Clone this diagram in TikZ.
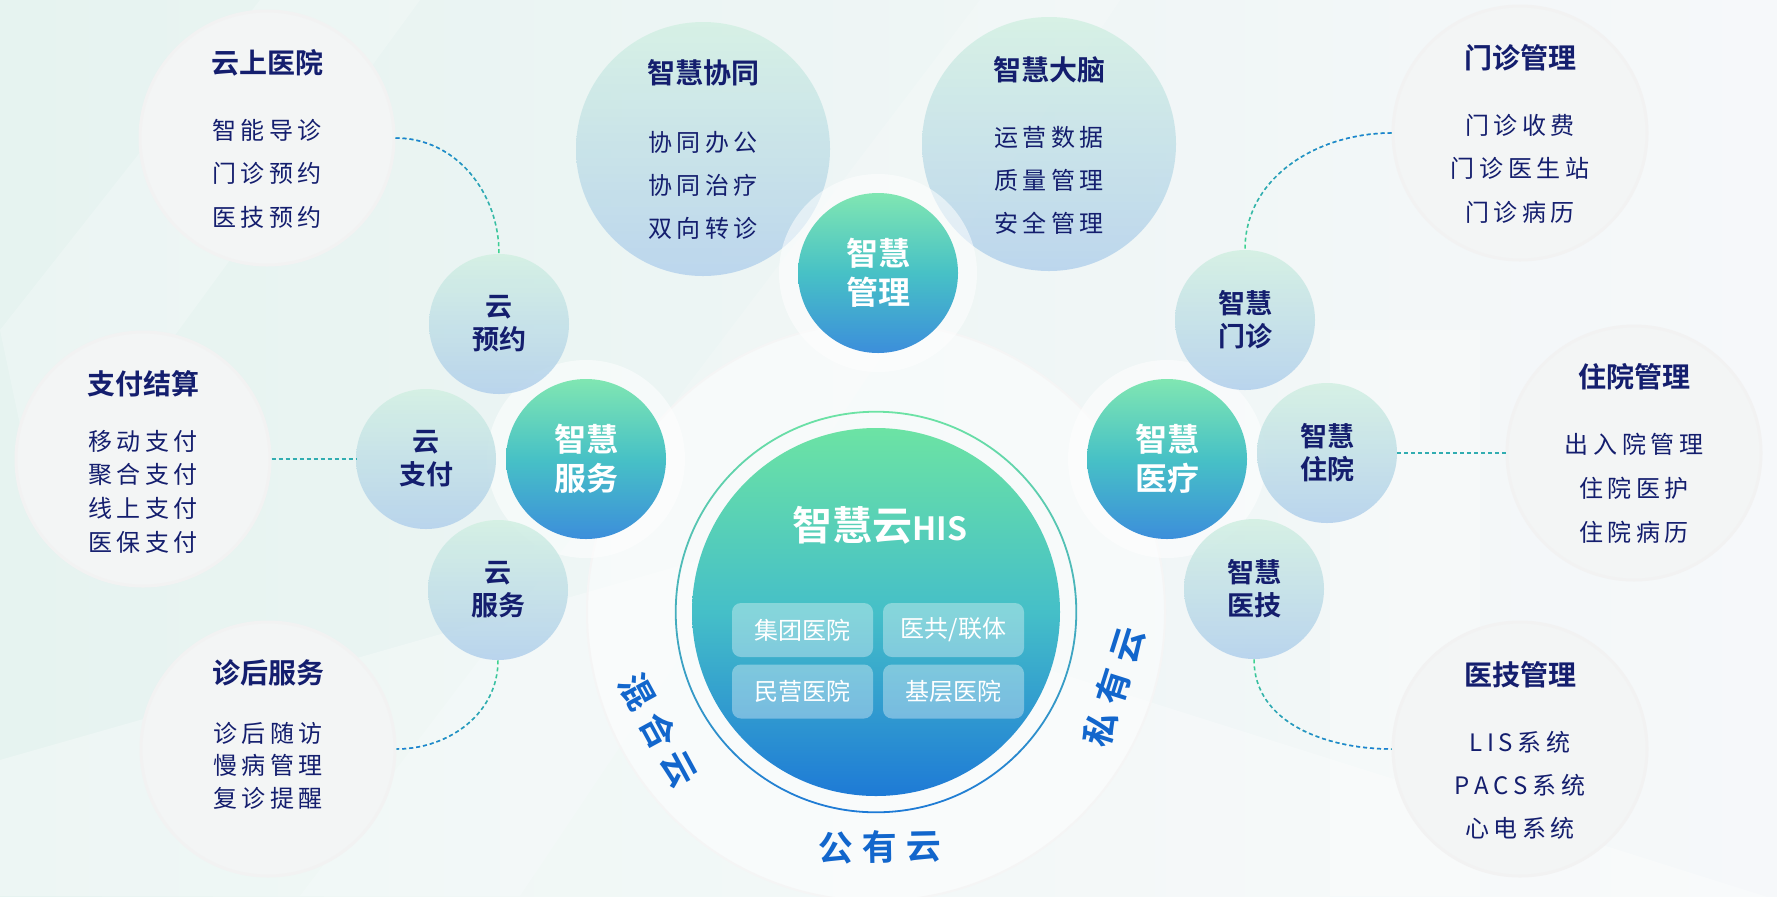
\documentclass[tikz,border=0pt]{standalone}
\usepackage{fontspec}
\setmainfont{Noto Sans CJK SC}[BoldFont={Noto Sans CJK SC Bold}]
\usetikzlibrary{positioning, fadings, calc}

\definecolor{navy}{HTML}{141E6E}
\definecolor{cloudblue}{HTML}{1266CC}
\definecolor{linkblue}{HTML}{1F7BDA}
\definecolor{linkgreen}{HTML}{3FD68F}
\definecolor{ballmint}{HTML}{D3F0E3}
\definecolor{ballblue}{HTML}{B4D1EC}
\definecolor{maingreen}{HTML}{80E6B2}
\definecolor{mainteal}{HTML}{47C1C6}
\definecolor{mainblue}{HTML}{3C8EDB}
\definecolor{hisgreen}{HTML}{6CE3A4}
\definecolor{histeal}{HTML}{45BFC8}
\definecolor{hisblue}{HTML}{1E7AD6}
\definecolor{descgrey}{HTML}{F3F5F5}
\definecolor{bgmint}{HTML}{E6F3F0}
\definecolor{bgwhite}{HTML}{F6F8FA}

\tikzfading[name=fade up, top color=transparent!0, bottom color=transparent!100]
\tikzfading[name=fade down, top color=transparent!100, bottom color=transparent!0]

% tracked text: a small gap after every character but the last
\newlength\trkgap
\setlength\trkgap{2.3pt}
\def\trk#1{\trkloop#1\relax}
\def\trkloop#1#2{#1\ifx#2\relax\else\hspace{\trkgap}\expandafter\trkloop\expandafter#2\fi}

\tikzset{
  desc/.style = {circle, inner sep=0pt, minimum size=127pt, fill=descgrey,
    draw=black!5, line width=1.5pt},
  ball/.style = {circle, inner sep=0pt, minimum size=127pt, top color=ballmint,
    bottom color=ballblue, opacity=0.85},
  sub/.style = {circle, inner sep=0pt, minimum size=70pt, top color=ballmint,
    bottom color=ballblue, opacity=0.9, text opacity=1, text=navy, align=center,
    font=\fontsize{13.5}{16.5}\selectfont\bfseries},
  main/.style = {circle, inner sep=0pt, minimum size=80pt, top color=maingreen,
    bottom color=mainblue, middle color=mainteal, text=white, align=center,
    font=\fontsize{16}{19.5}\selectfont\bfseries},
  halo/.style = {circle, inner sep=0pt, minimum size=99pt, fill=white, fill opacity=0.55},
  ttl/.style = {text=navy, inner sep=0pt, font=\fontsize{14}{14}\selectfont\bfseries},
  itm/.style = {text=navy, inner sep=0pt, font=\fontsize{12}{12}\selectfont},
  hbox/.style = {rounded corners=4.5pt, fill=white, fill opacity=0.35, text opacity=1,
    text=white, minimum width=70.5pt, minimum height=27pt, inner sep=0pt,
    font=\fontsize{12}{12}\selectfont},
  cloud/.style = {text=cloudblue, inner sep=0pt, font=\fontsize{17.5}{17.5}\selectfont\bfseries},
  link/.style = {dash pattern=on 2pt off 1.5pt, line width=0.75pt}
}

% style, name, x, y, title, title y, first item y, item pitch, items
\newcommand\infoball[9]{%
  \node[#1] (#2) at (#3,#4) {};
  \node[ttl] (#2-t) at (#3,#6) {#5};
  \foreach \itx [count=\k from 0] in {#9}
    \node[itm] (#2-\k) at (#3,{#7+\k*#8}) {\expandafter\trk\expandafter{\itx}};
}

\begin{document}
\begin{tikzpicture}[x=0.5pt, y=-0.5pt]
\useasboundingbox (0,0) rectangle (1777,896);
% background
\fill[left color=bgmint, right color=bgwhite] (0,0) rectangle (1777,896);
\fill[white, opacity=0.22] (0,330) -- (260,0) -- (420,0) -- (40,520) -- cycle;
\fill[white, opacity=0.18] (300,896) -- (980,0) -- (1120,0) -- (520,896) -- cycle;
\fill[white, opacity=0.25] (1330,330) rectangle (1480,896);
\fill[white, opacity=0.3] (0,760) -- (700,560) -- (1777,900) -- (0,896) -- cycle;

% outer disc
\node[circle, inner sep=0pt, minimum size=289pt, fill=white, fill opacity=0.5,
  draw=black!4, line width=1pt] (his-o) at (876,612) {};

% top balls
\infoball{ball}{xt}{703}{149}{智慧协同}{73}{142}{43}{协同办公,协同治疗,双向转诊}
\infoball{ball}{dn}{1049}{144}{智慧大脑}{70}{137}{43}{运营数据,质量管理,安全管理}

% left and right circles
\infoball{desc}{yy}{267}{138}{云上医院}{63}{130}{43.5}{智能导诊,门诊预约,医技预约}
\infoball{desc}{zf}{143}{459}{支付结算}{384}{441}{33.7}{移动支付,聚合支付,线上支付,医保支付}
\infoball{desc}{zh}{268}{749}{诊后服务}{673}{733}{32.5}{诊后随访,慢病管理,复诊提醒}
\infoball{desc}{mz}{1520}{133}{门诊管理}{58}{125}{43.5}{门诊收费,门诊医生站,门诊病历}
\infoball{desc}{zy}{1634}{453}{住院管理}{377}{444}{44}{出入院管理,住院医护,住院病历}
\infoball{desc}{yj}{1520}{749}{医技管理}{675}{742}{43}{LIS系统,PACS系统,心电系统}

% halos
\node[halo] (fw-h) at (586,459) {};
\node[halo] (yl-h) at (1167,459) {};
\node[halo] (gl-h) at (878,273) {};

% small circles
\node[sub] (yyy) at (499,324) {云\\预约};
\node[sub] (yzf) at (426,459) {云\\支付};
\node[sub] (yfw) at (498,590) {云\\服务};
\node[sub] (zmz) at (1245,320) {智慧\\门诊};
\node[sub] (zzy) at (1327,453) {智慧\\住院};
\node[sub] (zyj) at (1254,589) {智慧\\医技};

% main circles
\node[main] (fw) at (586,459) {智慧\\服务};
\node[main] (yl) at (1167,459) {智慧\\医疗};
\node[main] (gl) at (878,273) {智慧\\管理};

% centre
\node[circle, inner sep=0pt, minimum size=184pt, top color=hisgreen,
  bottom color=hisblue, middle color=histeal] (his) at (876,612) {};
\shade[top color=hisgreen, bottom color=hisblue, even odd rule]
  (his.center) circle (100.6pt) (his.center) circle (99.7pt);
\node[text=white, inner sep=0pt, font=\fontsize{20}{20}\selectfont\bfseries]
  (his-t) at (880,525) {智慧云{\fontsize{16}{16}\selectfont HIS}};
\node[hbox] (jt) at (802.5,630) {集团医院};
\node[hbox] (yg) at (953.5,630) {医共/联体};
\node[hbox] (my) at (802.5,691.5) {民营医院};
\node[hbox] (jc) at (953.5,691.5) {基层医院};

% cloud labels
\setlength\trkgap{4.5pt}
\node[cloud, rotate=298.5] (hh) at ([shift={(208.5:124pt)}]his.center) {\trk{混合云}};
\node[cloud, rotate=72.5] (sy) at ([shift={(-17.5:124.5pt)}]his.center) {\trk{私有云}};
\node[cloud, rotate=1] (gy) at ([shift={(271:117.5pt)}]his.center) {\trk{公有云}};

% connectors
\draw[link, linkgreen] (yy.east) to[out=0, in=90] (yyy.north);
\draw[link, linkblue, path fading=fade up] (yy.east) to[out=0, in=90] (yyy.north);
\draw[link, linkblue!45!linkgreen] (zf.east) -- (yzf.west);
\draw[link, linkgreen] (yfw.south) to[out=-90, in=0] (zh.east);
\draw[link, linkblue, path fading=fade down] (yfw.south) to[out=-90, in=0] (zh.east);
\draw[link, linkgreen] (mz.west) to[out=180, in=90] (zmz.north);
\draw[link, linkblue, path fading=fade up] (mz.west) to[out=180, in=90] (zmz.north);
\draw[link, linkblue!45!linkgreen] (zzy.east) -- (zy.west);
\draw[link, linkgreen] (zyj.south) to[out=-90, in=180] (yj.west);
\draw[link, linkblue, path fading=fade down] (zyj.south) to[out=-90, in=180] (yj.west);
\end{tikzpicture}
\end{document}
